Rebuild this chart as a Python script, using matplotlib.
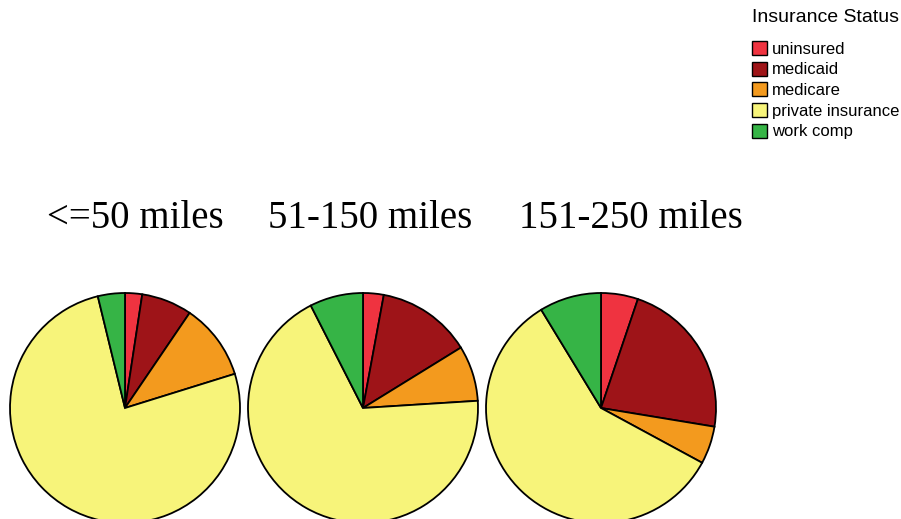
import matplotlib
matplotlib.use("Agg")
import matplotlib.pyplot as plt

categories = ["uninsured", "medicaid", "medicare", "private insurance", "work comp"]
colors = ["#EF3340", "#9E1418", "#F39A1E", "#F7F47A", "#36B446"]
groups = ["<=50 miles", "51-150 miles", "151-250 miles"]
share_le50 = [2.4, 7.1, 10.7, 76.0, 3.8]
share_51_150 = [2.9, 13.3, 7.8, 68.5, 7.5]
share_151_250 = [5.2, 22.4, 5.3, 58.4, 8.7]
all_shares = [share_le50, share_51_150, share_151_250]

W, H = 901, 519
fig = plt.figure(figsize=(W / 100, H / 100), dpi=100)
ax = fig.add_axes([0, 0, 1, 1])

centers_x = [125, 363, 601]
cy = H - 408
radius = 115
title_x = [135, 370, 631]

wedges_first = None
for vals, cx, tx, g in zip(all_shares, centers_x, title_x, groups):
    wedges, _ = ax.pie(vals, colors=colors, startangle=90, counterclock=False,
                       center=(cx, cy), radius=radius,
                       wedgeprops=dict(edgecolor="black", linewidth=1.3))
    if wedges_first is None:
        wedges_first = wedges
    ax.text(tx, H - 228, g, ha="center", va="baseline",
            fontfamily="Liberation Serif", fontsize=28, color="black")

ax.set_xlim(0, W)
ax.set_ylim(0, H)
ax.set_aspect("equal")
ax.axis("off")

fig.text(752 / W, 1 - 18 / H, "Insurance Status", ha="left", va="center",
         fontfamily="Liberation Sans", fontsize=14)

leg = fig.legend(wedges_first, categories,
                 loc="upper left", bbox_to_anchor=(752 / W, 1 - 41 / H),
                 frameon=False, prop=dict(family="Liberation Sans", size=12),
                 handlelength=0.9, handleheight=0.9, handletextpad=0.28,
                 labelspacing=0.3, borderaxespad=0, borderpad=0)
for h in leg.legend_handles:
    h.set_edgecolor("black")
    h.set_linewidth(1.0)

fig.savefig("out.png", dpi=100)
